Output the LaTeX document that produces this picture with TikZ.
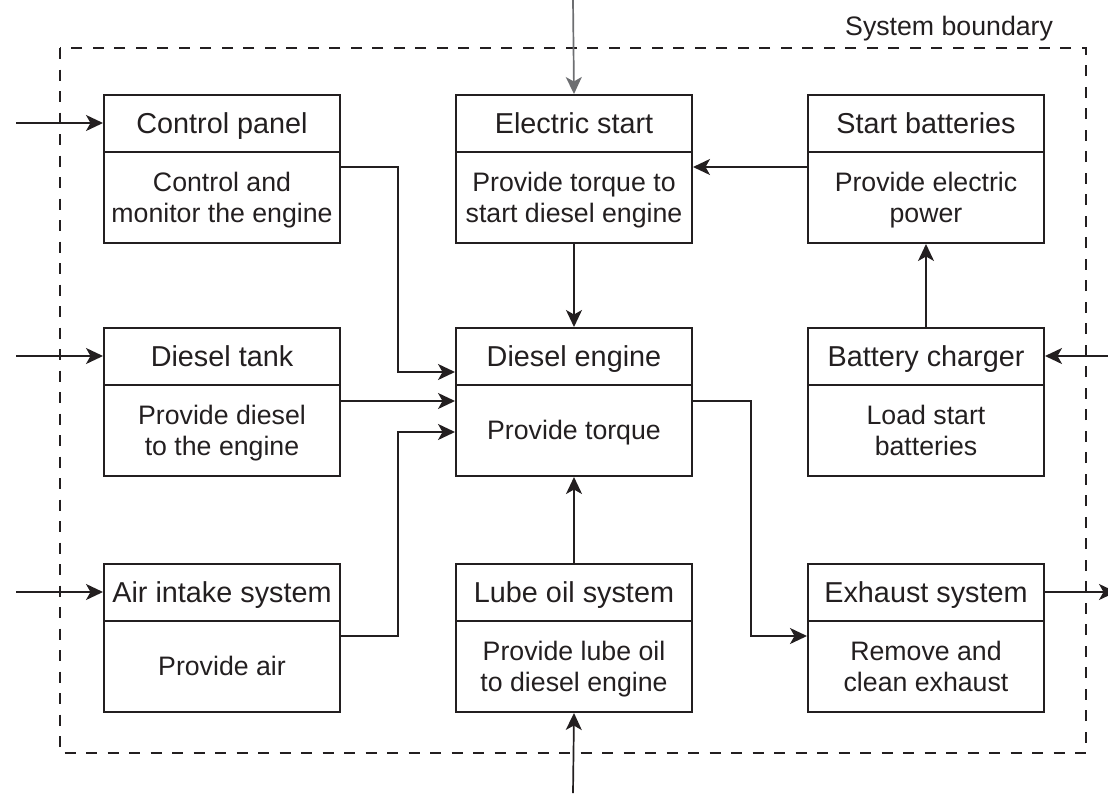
\documentclass[tikz,border=0pt]{standalone}
\usepackage{fontspec}
\setmainfont{Liberation Sans}
\usetikzlibrary{arrows.meta,calc}
\definecolor{ink}{HTML}{231F20}
\definecolor{grayink}{HTML}{6D6E71}
\tikzset{
  box/.style={draw=ink, line width=2pt, minimum width=236pt, minimum height=148pt, inner sep=0pt, anchor=north west},
  divider/.style={draw=ink, line width=2pt},
  head/.style={font=\fontsize{28.8}{31}\selectfont, text=ink, anchor=base, inner sep=0pt},
  body/.style={font=\fontsize{26.7}{31}\selectfont, text=ink, align=center, anchor=base, inner sep=0pt},
  arr/.style={draw=ink, line width=1.7pt, -{Stealth[length=17pt,width=16pt,inset=4.5pt]}},
  grayarr/.style={draw=grayink, line width=1.7pt, -{Stealth[length=17pt,width=16pt,inset=4.5pt]}},
  boundary/.style={draw=ink, line width=1.6pt, dash pattern=on 11pt off 10.5pt},
  label/.style={font=\fontsize{26.7}{31}\selectfont, text=ink, anchor=base west, inner sep=0pt}
}
\newcommand{\sysbox}[6]{%
  \node[box] (#1) at (#2) {};
  \draw[divider] ($(#1.north west)+(0,58)$) -- ($(#1.north east)+(0,58)$);
  \node[head] (#1h) at ($(#1.north)+(0,39.3)$) {#3};
  \node[body] (#1b) at ($(#1.north)+(0,#5)$) {#4};
}
\begin{document}
\begin{tikzpicture}[x=1pt, y=-1pt]
\useasboundingbox (0,0) rectangle (1108,793);
% system boundary
\draw[boundary] (60,48) rectangle (1086,753);
\node[label] (sysb) at (845,35) {System boundary};
% boxes
\sysbox{cp}{103,94}{Control panel}{Control and\\monitor the engine}{128}{}
\sysbox{es}{455,94}{Electric start}{Provide torque to\\start diesel engine}{128}{}
\sysbox{sb}{807,94}{Start batteries}{Provide electric\\power}{128}{}
\sysbox{dt}{103,327}{Diesel tank}{Provide diesel\\to the engine}{128}{}
\sysbox{de}{455,327}{Diesel engine}{Provide torque}{112.5}{}
\sysbox{bc}{807,327}{Battery charger}{Load start\\batteries}{128}{}
\sysbox{ai}{103,563}{Air intake system}{Provide air}{112.5}{}
\sysbox{lo}{455,563}{Lube oil system}{Provide lube oil\\to diesel engine}{128}{}
\sysbox{ex}{807,563}{Exhaust system}{Remove and\\clean exhaust}{128}{}
% external inputs / outputs
\coordinate (inCP) at (16,123);
\coordinate (inDT) at (16,356);
\coordinate (inAI) at (16,592);
\coordinate (inES) at (573,0);
\coordinate (inLO) at (573,793);
\coordinate (inBC) at (1108,356);
\coordinate (outEX) at (1116,592);
\draw[arr] (inCP) -- (cp.west |- inCP);
\draw[arr] (inDT) -- (dt.west |- inDT);
\draw[arr] (inAI) -- (ai.west |- inAI);
\draw[grayarr] (inES) -- (es.north);
\draw[arr] (inLO) -- (lo.south);
\draw[arr] (inBC) -- (bc.east |- inBC);
\draw[arr] (ex.east |- outEX) -- (outEX);
% internal flows
\draw[arr] ($(sb.north west)+(0,73)$) -- ($(es.north east)+(0,73)$);
\draw[arr] (es.south) -- (de.north);
\draw[arr] (bc.north) -- (sb.south);
\draw[arr] (lo.north) -- (de.south);
\draw[arr] ($(cp.north east)+(0,73)$) -- ++(57,0) |- ($(de.north west)+(0,45)$);
\draw[arr] ($(dt.north east)+(0,74)$) -- ($(de.north west)+(0,74)$);
\draw[arr] ($(ai.north east)+(0,73)$) -- ++(57,0) |- ($(de.north west)+(0,105)$);
\draw[arr] ($(de.north east)+(0,74)$) -- ++(58,0) |- ($(ex.north west)+(0,73)$);
\end{tikzpicture}
\end{document}
